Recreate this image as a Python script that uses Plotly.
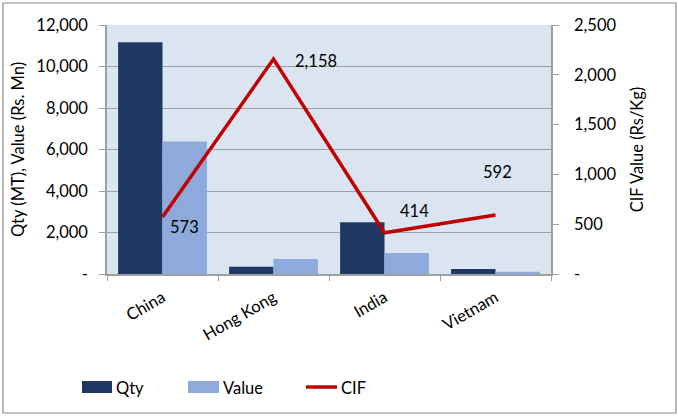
import plotly.graph_objects as go

countries = ["China", "Hong Kong", "India", "Vietnam"]
qty = [11170, 350, 2490, 240]
value = [6380, 720, 1010, 110]
cif = [573, 2158, 414, 592]
cif_labels = ["573", "2,158", "414", "592"]
left_ticks = [0, 2000, 4000, 6000, 8000, 10000, 12000]
left_ticktext = ["-", "2,000", "4,000", "6,000", "8,000", "10,000", "12,000"]
right_ticks = [0, 500, 1000, 1500, 2000, 2500]
right_ticktext = ["-", "500", "1,000", "1,500", "2,000", "2,500"]
label_shifts = [(22, -10), (42, -2), (30, 22), (2, 43)]

FONT = "Lato"
FS = 16.5
W, H = 678, 416
L, R, T, B = 107, 127, 25, 142
pw = W - L - R
ph = H - T - B

def px(xp):
    return (xp - L) / pw

def py(yp):
    return (H - B - yp) / ph

QTY_C, VAL_C, CIF_C = "#203864", "#8eaadc", "#c00000"

fig = go.Figure()
fig.add_trace(go.Bar(name="Qty", x=countries, y=qty, marker=dict(color=QTY_C, line=dict(width=0))))
fig.add_trace(go.Bar(name="Value", x=countries, y=value, marker=dict(color=VAL_C, line=dict(width=0))))
fig.add_trace(go.Scatter(name="CIF", x=countries, y=cif, yaxis="y2", mode="lines",
                         line=dict(color=CIF_C, width=3.5)))

for c, v, t, (dx, dy) in zip(countries, cif, cif_labels, label_shifts):
    fig.add_annotation(x=c, y=v, xref="x", yref="y2", text=t, showarrow=False,
                       xshift=dx, yshift=dy, font=dict(family=FONT, size=FS, color="#000"))

# outer chart border
fig.add_shape(type="rect", xref="paper", yref="paper",
              x0=px(3), x1=px(676), y0=py(413), y1=py(3),
              line=dict(color="#8c8c8c", width=1.2), layer="below")

# custom legend
fig.add_shape(type="rect", xref="paper", yref="paper", x0=px(82), x1=px(112), y0=py(393), y1=py(381),
              fillcolor=QTY_C, line=dict(width=0))
fig.add_shape(type="rect", xref="paper", yref="paper", x0=px(188), x1=px(219), y0=py(393), y1=py(381),
              fillcolor=VAL_C, line=dict(width=0))
fig.add_shape(type="line", xref="paper", yref="paper", x0=px(306), x1=px(337), y0=py(387), y1=py(387),
              line=dict(color=CIF_C, width=3.5))
for name, xt in [("Qty", 114), ("Value", 221), ("CIF", 339)]:
    fig.add_annotation(x=px(xt), y=py(388), xref="paper", yref="paper", text=name, showarrow=False,
                       xanchor="left", yanchor="middle", font=dict(family=FONT, size=FS, color="#000"))

fig.update_layout(
    width=W, height=H,
    margin=dict(l=L, r=R, t=T, b=B),
    paper_bgcolor="white",
    plot_bgcolor="#dbe5f1",
    barmode="group", bargap=0.2, bargroupgap=0,
    font=dict(family=FONT, size=FS, color="#000"),
    showlegend=False,
    xaxis=dict(tickangle=-30, showline=True, linecolor="#a0a0a0", linewidth=1.5,
               ticks="outside", ticklen=5, tickcolor="#a0a0a0", tickson="boundaries",
               ticklabelstandoff=6,
               showgrid=False, automargin=False, tickfont=dict(family=FONT, size=FS)),
    yaxis=dict(range=[0, 12000], tickvals=left_ticks, ticktext=left_ticktext,
               showline=True, linecolor="#a0a0a0", linewidth=1.5,
               ticks="outside", ticklen=6, tickcolor="#a0a0a0", automargin=False,
               ticklabelstandoff=8,
               showgrid=True, gridcolor="#a0a0a0", gridwidth=1, zeroline=False,
               title=dict(text="Qty (MT), Value (Rs. Mn)", standoff=8,
                          font=dict(family=FONT, size=FS))),
    yaxis2=dict(range=[0, 2500], tickvals=right_ticks, ticktext=right_ticktext,
                overlaying="y", side="right", showline=True, linecolor="#a0a0a0", linewidth=1.5,
                ticks="outside", ticklen=6, tickcolor="#a0a0a0", showgrid=False, zeroline=False,
                automargin=False, ticklabelstandoff=12,
                title=dict(text="CIF Value (Rs/Kg)", standoff=16,
                           font=dict(family=FONT, size=FS))),
)

fig.write_html("out.html", config={"displayModeBar": False},
               post_script="document.body.style.margin='0';document.body.style.overflow='hidden';")
